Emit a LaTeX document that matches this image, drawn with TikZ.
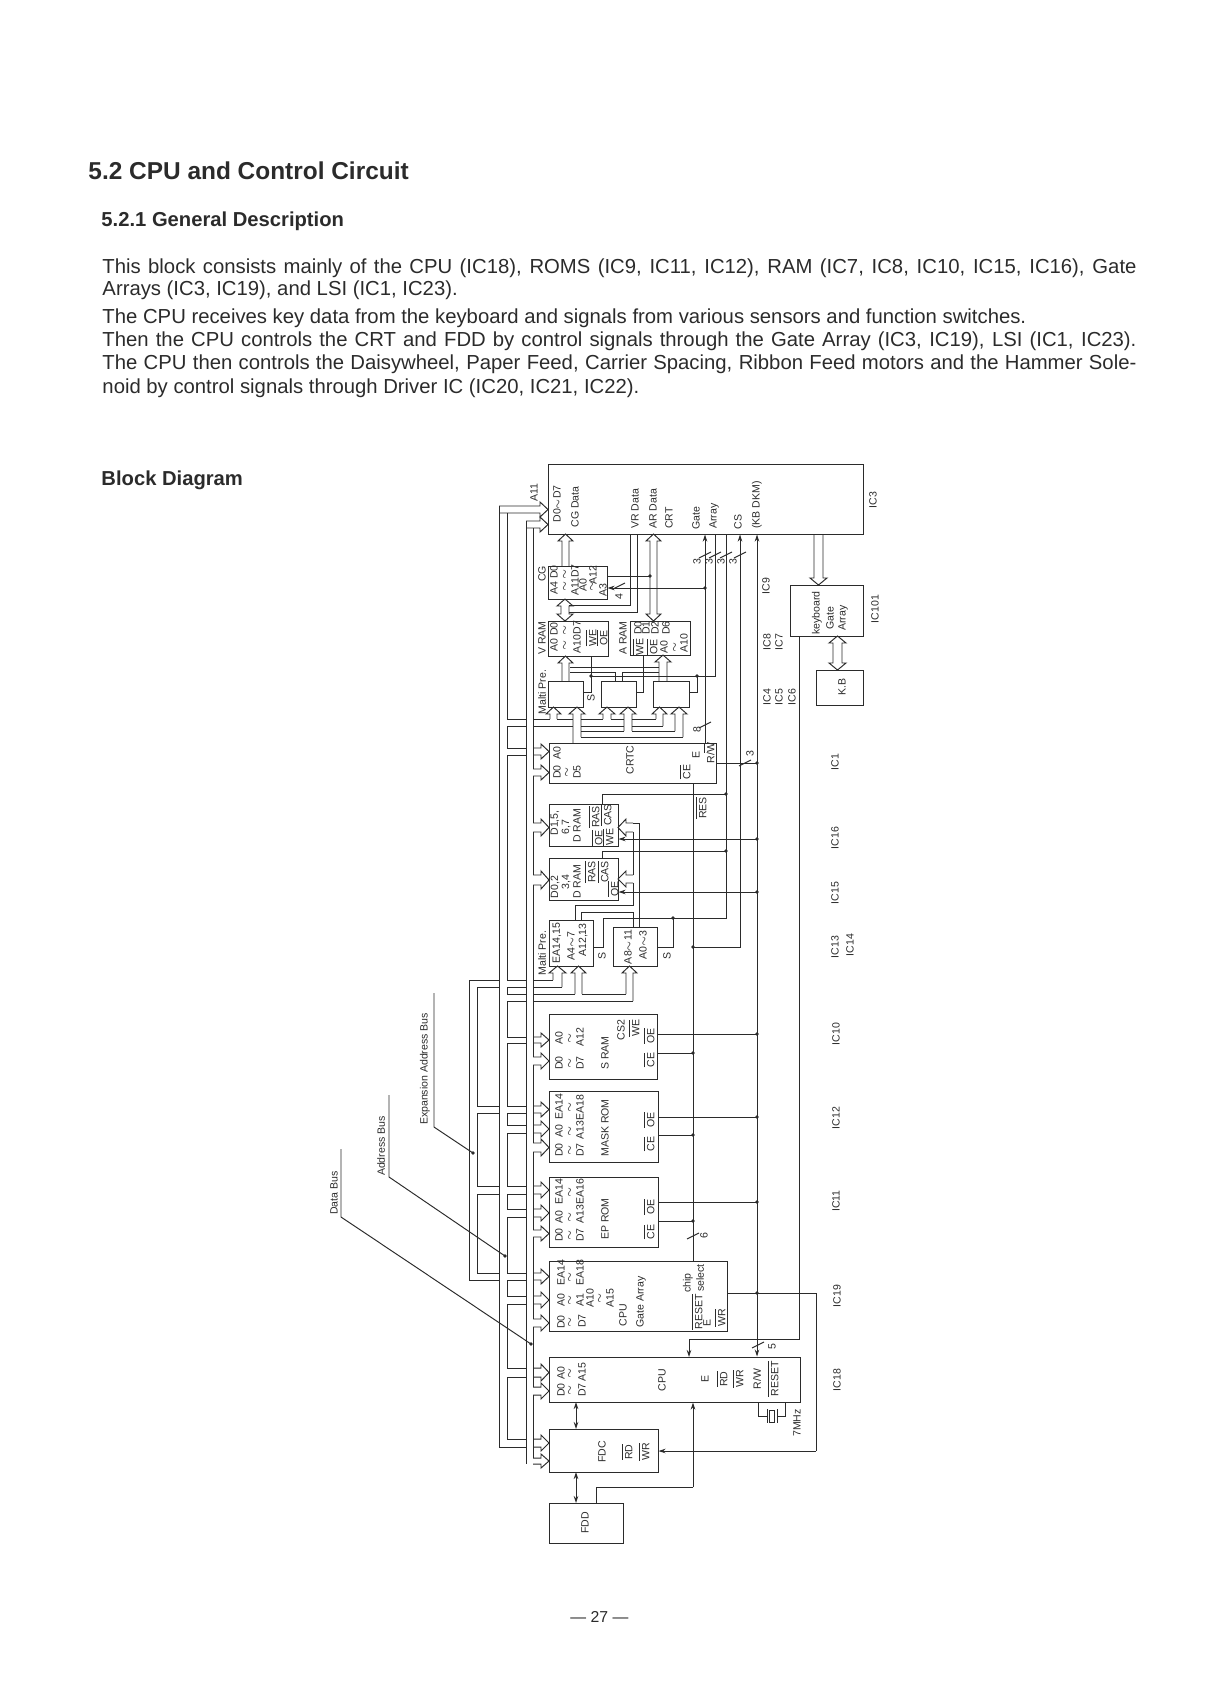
\documentclass[tikz,border=0pt]{standalone}
\usepackage{fontspec}
\setmainfont{Liberation Sans}
\usetikzlibrary{arrows.meta,fit}
\definecolor{Ink}{HTML}{2B2B2B}
\newlength\ppx
\setlength\ppx{.02cm}
\newcommand{\ovl}[1]{$\overline{\mbox{#1}}$}
\newcommand{\tld}{$\sim$}
% hollow bus arrows: stems and head
\newcommand{\hollowR}[4]{\draw (#1,#3)--({#2-8},#3)--({#2-8},{#3-4})--(#2,{(#3+#4)/2})--({#2-8},{#4+4})--({#2-8},#4)--(#1,#4);}
\newcommand{\hollowL}[4]{\draw (#1,#3)--({#2+8},#3)--({#2+8},{#3-4})--(#2,{(#3+#4)/2})--({#2+8},{#4+4})--({#2+8},#4)--(#1,#4);}
\newcommand{\hollowU}[5]{\draw (#1,#2)--(#1,{#5+7})--({#1-4},{#5+7})--({(#1+#3)/2},#5)--({#3+4},{#5+7})--(#3,{#5+7})--(#3,#4);}
\newcommand{\hollowD}[4]{\draw (#1,#3)--(#1,{#4-7})--({#1-4},{#4-7})--({(#1+#2)/2},#4)--({#2+4},{#4-7})--(#2,{#4-7})--(#2,#3);}
\newcommand{\hollowV}[4]{\draw (#1,{#3+7})--({#1-4},{#3+7})--({(#1+#2)/2},#3)--({#2+4},{#3+7})--(#2,{#3+7})--(#2,{#4-7})--({#2+4},{#4-7})--({(#1+#2)/2},#4)--({#1-4},{#4-7})--(#1,{#4-7})--cycle;}
\tikzset{
  chip/.style={draw,inner sep=0pt},
  lbl/.style={rotate=90,inner sep=0pt,font=\fontsize{6pt}{7pt}\selectfont},
  para/.style={anchor=base west,inner sep=0pt,font=\fontsize{11.55pt}{12pt}\selectfont}
}
\begin{document}
\begin{tikzpicture}[x=.02cm,y=-.02cm,>={Stealth[length=4pt,width=2.6pt]},line width=.55pt,color=Ink]
\useasboundingbox (0,0) rectangle (1210,1697);
% text of the page
\node[para,font=\bfseries\fontsize{13.9pt}{15pt}\selectfont] (head) at (88,179) {5.2 CPU and Control Circuit};
\node[para,font=\bfseries\fontsize{11.5pt}{13pt}\selectfont] (subhead) at (101,226) {5.2.1 General Description};
\node[para] (la) at (102,273) {\makebox[1034\ppx][s]{This block consists mainly of the CPU (IC18), ROMS (IC9, IC11, IC12), RAM (IC7, IC8, IC10, IC15, IC16), Gate}};
\node[para] (lb) at (102,295) {Arrays (IC3, IC19), and LSI (IC1, IC23).};
\node[para] (lc) at (102,323) {The CPU receives key data from the keyboard and signals from various sensors and function switches.};
\node[para] (ld) at (102,346) {\makebox[1034\ppx][s]{Then the CPU controls the CRT and FDD by control signals through the Gate Array (IC3, IC19), LSI (IC1, IC23).}};
\node[para] (le) at (102,369) {\makebox[1034\ppx][s]{The CPU then controls the Daisywheel, Paper Feed, Carrier Spacing, Ribbon Feed motors and the Hammer Sole-}};
\node[para] (lf) at (102,393) {noid by control signals through Driver IC (IC20, IC21, IC22).};
\node[para,font=\bfseries\fontsize{11.5pt}{13pt}\selectfont] (blockhead) at (101,485) {Block Diagram};
\node[para,font=\fontsize{9pt}{10pt}\selectfont] (pageno) at (570,1622) {— 27 —};
% chips
\foreach \name/\xa/\ya/\xb/\yb in {ic3/548/464/863/534,cg/548/566/607/599,vram/548/621/608/656,aram/630/621/690/655,
    mpa/548/681/583/707,mpb/601/681/636/707,mpc/653/681/689/707,kbga/790/585/863/636,kb/816/670/863/705,
    crtc/549/743/716/783,draa/549/804/618/846,drab/549/858/618/900,mpd/549/920/593/966,mpe/613/927/657/966,
    sram/549/1014/657/1079,mrom/549/1091/658/1162,erom/549/1177/658/1247,cpuga/549/1261/727/1331,
    cpu/549/1357/800/1402,fdc/549/1429/658/1472,fdd/549/1503/623/1543}{
  \node[chip,fit={(\xa,\ya) (\xb,\yb)}] (\name) {};}
% expansion address bus
\coordinate (expo) at (469,0);
\coordinate (expi) at (477,0);
\draw (expo |- 0,980)--(expo |- 0,1280);
\foreach \ya/\yb in {987/1106,1113/1186,1194/1273} \draw (expi |- 0,\ya)--(expi |- 0,\yb);
% address bus
\coordinate (adro) at (499,0);
\coordinate (adri) at (507,0);
\draw (adro |- 0,506)--(adro |- 0,1447);
\foreach \ya/\yb in {513/719,726/748,755/980,987/994,1001/1037,1043/1106,1113/1125,1133/1186,1194/1209,1217/1273,1280/1296,1304/1368,1377/1439}
  \draw (adri |- 0,\ya)--(adri |- 0,\yb);
\foreach \yy in {719,726,748,755,980,987,994,1001,1037,1043,1106,1113,1125,1133,1186,1194,1209,1217,1273,1280,1296,1304,1368,1377,1439}
  \draw (adri |- 0,\yy)--(526,\yy);
\draw (adro |- 0,1447)--(526,1447);
% data bus
\draw (526,521)--(526,1464);
\foreach \ya/\yb in {528/769,776/823,832/875,885/1057,1065/1143,1152/1230,1237/1319,1327/1387,1395/1458}
  \draw (533,\ya)--(533,\yb);
\hollowR{499}{548}{506}{513}
\hollowR{526}{548}{521}{528}
\foreach \ya/\yb in {748/755,769/776,823/832,875/885,1037/1043,1057/1065,1106/1113,1125/1133,1143/1152,1186/1194,1209/1217,1230/1237,1273/1280,1296/1304,1319/1327,1368/1377,1387/1395,1439/1447,1458/1464}
  \hollowR{533}{549}{\ya}{\yb}
\foreach \ya/\yb in {1106/1113,1186/1194,1273/1280}{
  \draw (expi |- 0,\ya)--(adro |- 0,\ya);
  \draw (expi |- 0,\yb)--(adro |- 0,\yb);}
\draw (expo |- 0,1280)--(expi |- 0,1280) (expo |- 0,980)--(adro |- 0,980) (expi |- 0,987)--(adro |- 0,987);
% multiplexer inputs, top group
\draw (533,719)--(550,719) (557,719)--(573,719) (581,719)--(603,719) (611,719)--(624,719) (632,719)--(656,719);
\draw (533,726)--(573,726) (581,726)--(624,726) (632,726)--(663,726);
\draw (581,731)--(624,731) (632,731)--(675,731) (581,737)--(683,737);
\hollowU{550}{719}{557}{719}{707}
\hollowU{603}{719}{611}{719}{707}
\hollowU{656}{719}{663}{726}{707}
\hollowU{573}{743}{581}{737}{707}
\hollowU{624}{731}{632}{731}{707}
\hollowU{675}{731}{683}{737}{707}
% multiplexer inputs, lower group
\draw (533,980)--(553,980) (533,987)--(562,987) (533,994)--(575,994) (582,994)--(626,994) (533,1001)--(633,1001);
\hollowU{553}{980}{562}{987}{966}
\hollowU{575}{994}{582}{994}{966}
\hollowU{626}{994}{633}{1001}{966}
% other buses
\hollowU{562}{566}{569}{566}{534}
\hollowU{562}{681}{569}{681}{656}
\hollowU{659}{681}{667}{681}{655}
\hollowV{561}{569}{599}{621}
\hollowV{650}{657}{534}{621}
\hollowV{833}{842}{636}{670}
\hollowD{814}{823}{534}{585}
\draw (630,534)--(630,605)--(569,605) (637,534)--(637,612)--(569,612);
\draw (570,667)--(659,667) (570,672)--(615,672)--(615,681) (622,681)--(622,672)--(659,672);
% dynamic ram buses
\hollowL{633}{618}{823}{832}
\hollowL{633}{618}{875}{883}
\draw (633,823)--(639,823)--(639,927) (633,832)--(633,875);
\draw (633,883)--(633,905)--(575,905)--(575,920) (581,920)--(581,912)--(633,912)--(633,927);
% control rails
\coordinate (railg) at (705,0);
\coordinate (raila) at (715,0);
\coordinate (railr) at (726,0);
\coordinate (railc) at (740,0);
\coordinate (railk) at (757,0);
\coordinate (railb) at (693,0);
\coordinate (railn) at (799,0);
\coordinate (railo) at (816,0);
\draw[<-] (railg |- ic3.south)--(railg |- crtc.north);
\draw (raila |- ic3.south)--(raila |- 0,676)--(591,676);
\draw (railr |- ic3.south)--(railr |- 0,918)--(603,918)--(603,947)--(mpd.east |- 0,947);
\draw[<-] (railc |- ic3.south)--(railc |- 0,947)--(railb |- 0,947);
\draw[<-] (railk |- ic3.south)--(railk |- 0,1293);
\draw[->] (railk |- 0,1293)--(railk |- cpu.north);
\draw (railb |- crtc.south)--(railb |- cpuga.north);
\draw (railn |- kbga.south)--(railn |- 0,1339)--(689,1339);
\draw[->] (689,1339)--(689,1357);
\draw[->] (railb |- 0,1487)--(railb |- cpu.south);
\draw (railb |- 0,1487)--(596,1487)--(596,0 |- fdd.north);
\draw (cpuga.east |- 0,1293)--(railo |- 0,1293)--(railo |- 0,1451);
\draw[->] (railo |- 0,1451)--(fdc.east |- 0,1451);
\draw[<->] (576,1402)--(576,1429);
\draw[<->] (576,1472)--(576,1503);
% crystal
\draw (758,1402)--(758,1416)--(767,1416) (777,1416)--(785,1416)--(785,1402);
\draw (767,1409)--(767,1423) (777,1409)--(777,1423) (769.5,1410) rectangle (774.5,1422);
% side connections
\draw (cg.east |- 0,576)--(650,576);
\draw[<-] (cg.east |- 0,588)--(railg |- 0,588);
\draw (mpa.east |- 0,692)--(591,692)--(591,656);
\draw (mpb.east |- 0,692)--(643,692)--(643,656);
\draw (mpc.east |- 0,692)--(697,692)--(697,676);
\draw (crtc.east |- 0,763)--(railk |- 0,763);
\draw (602,804)--(602,794)--(railr |- 0,794);
\draw (602,858)--(602,851)--(railr |- 0,851);
\draw[<-] (draa.east |- 0,839)--(railk |- 0,839);
\draw[<-] (drab.east |- 0,892)--(railk |- 0,892);
\draw (673,918)--(673,947)--(mpe.east |- 0,947);
\foreach \chipn/\ya/\yb in {sram/1034/1053,mrom/1117/1135,erom/1202/1221}{
  \draw (\chipn.east |- 0,\ya)--(railk |- 0,\ya);
  \draw (\chipn.east |- 0,\yb)--(railb |- 0,\yb);
  \fill (railk |- 0,\ya) circle (1.1pt) (railb |- 0,\yb) circle (1.1pt);}
\foreach \xx/\yy in {705/588,591/676,697/676,757/763,726/794,726/851,757/839,757/892,673/918,693/947,757/1293,650/576}
  \fill (\xx,\yy) circle (1.1pt);
% bus width marks
\foreach \xx/\yy in {705/555,715/555,726/555,740/555,705/725,745/763,619/586,693/1236,758/1345}
  \draw (\xx-6,\yy+3)--(\xx+6,\yy-3);
% leaders to the buses
\draw (434,993)--(434,1127)--(473,1153);
\draw (389,1095)--(389,1177)--(505,1256);
\draw (341,1149)--(341,1217)--(531,1344);
\fill (473,1153) circle (1.1pt) (505,1256) circle (1.1pt) (531,1344) circle (1.1pt);
% labels
\foreach \xx/\yy/\txt [count=\n] in {
    557/504/{D0\tld D7},575/507/CG Data,534/493/A11,635/509/VR Data,653/509/AR Data,669/518/CRT,696/518/Gate,714/516/Array,738/522/CS,757/505/(KB DKM),873/500/IC3,
    542/574/CG,554/580/A4 D0,565/574/\tld,565/586/\tld,575/580/A11D7,583/585/A0,593/575/A12,592/586/\tld,603/590/A3,
    542/638/V RAM,554/637/A0 D0,565/630/\tld,565/645/\tld,577/637/A10D7,591/638/\ovl{WE},602/638/\ovl{OE},
    623/638/A RAM,638/647/\ovl{WE},652/647/\ovl{OE},664/647/A0,675/647/\tld,684/643/A10,638/628/D0,646/628/D1,655/628/D2,666/628/D6,
    542/692/Malti Pre.,591/698/S,
    817/613/keyboard,830/618/Gate,843/618/Array,875/609/IC101,842/687/K.B,
    766/586/IC9,767/642/IC8,779/642/IC7,767/697/IC4,779/697/IC5,792/697/IC6,
    697/562/3,709/562/3,721/562/3,733/562/3,619/597/4,697/730/8,750/754/3,
    557/753/A0,557/772/D0,567/772/\tld,577/772/D5,630/760/CRTC,685/772/\ovl{CE},696/755/E,709/753/{R/\ovl{W}},701/808/\ovl{RES},835/762/IC1,
    555/823/{D1,5,},566/827/{6,7},577/826/D RAM,597/838/\ovl{OE},594/817/\ovl{RAS},608/837/\ovl{WE},606/815/\ovl{CAS},835/838/IC16,
    555/887/{D0,2},566/882/{3,4},577/882/D RAM,590/872/\ovl{RAS},603/872/\ovl{CAS},613/889/\ovl{OE},835/893/IC15,
    542/953/Malti Pre.,557/943/{EA14,15},571/946/{A4\tld 7},583/940/{A12,13},602/956/S,628/947/{A8\tld 11},643/945/{A0\tld 3},667/956/S,835/947/IC13,850/945/IC14,
    559/1038/A0,570/1038/\tld,580/1037/A12,559/1063/D0,570/1063/\tld,580/1063/D7,605/1053/S RAM,621/1030/CS2,634/1028/\ovl{WE},649/1036/\ovl{OE},649/1060/\ovl{CE},836/1034/IC10,
    559/1107/EA14,570/1107/\tld,559/1131/A0,570/1131/\tld,559/1150/D0,570/1150/\tld,580/1117/A13EA18,580/1150/D7,605/1128/MASK ROM,649/1120/\ovl{OE},649/1144/\ovl{CE},836/1118/IC12,
    559/1192/EA14,570/1192/\tld,559/1217/A0,570/1217/\tld,559/1235/D0,570/1235/\tld,580/1201/A13EA16,580/1235/D7,605/1219/EP ROM,649/1207/\ovl{OE},649/1232/\ovl{CE},704/1236/6,836/1201/IC11,
    561/1273/EA14,570/1277/\tld,561/1300/A0,570/1300/\tld,561/1322/D0,570/1322/\tld,580/1273/EA18,580/1300/A1,582/1321/D7,590/1298/A10,600/1298/\tld,610/1298/A15,623/1315/CPU,641/1302/Gate Array,688/1283/chip,700/1278/select,697/1312/\ovl{RESET},707/1323/E,720/1318/\ovl{WR},837/1296/IC19,
    561/1373/A0,570/1373/\tld,561/1390/D0,570/1390/\tld,582/1390/D7,582/1372/A15,662/1380/CPU,705/1379/E,722/1379/\ovl{RD},738/1379/\ovl{WR},757/1379/{R/W},773/1379/\ovl{RESET},837/1380/IC18,772/1347/5,797/1423/7MHz,
    602/1452/FDC,627/1452/\ovl{RD},644/1452/\ovl{WR},585/1523/FDD,
    425/1069/Expansion Address Bus,381/1146/Address Bus,334/1193/Data Bus}
  \node[lbl] (lb\n) at (\xx,\yy) {\txt};
\end{tikzpicture}
\end{document}
